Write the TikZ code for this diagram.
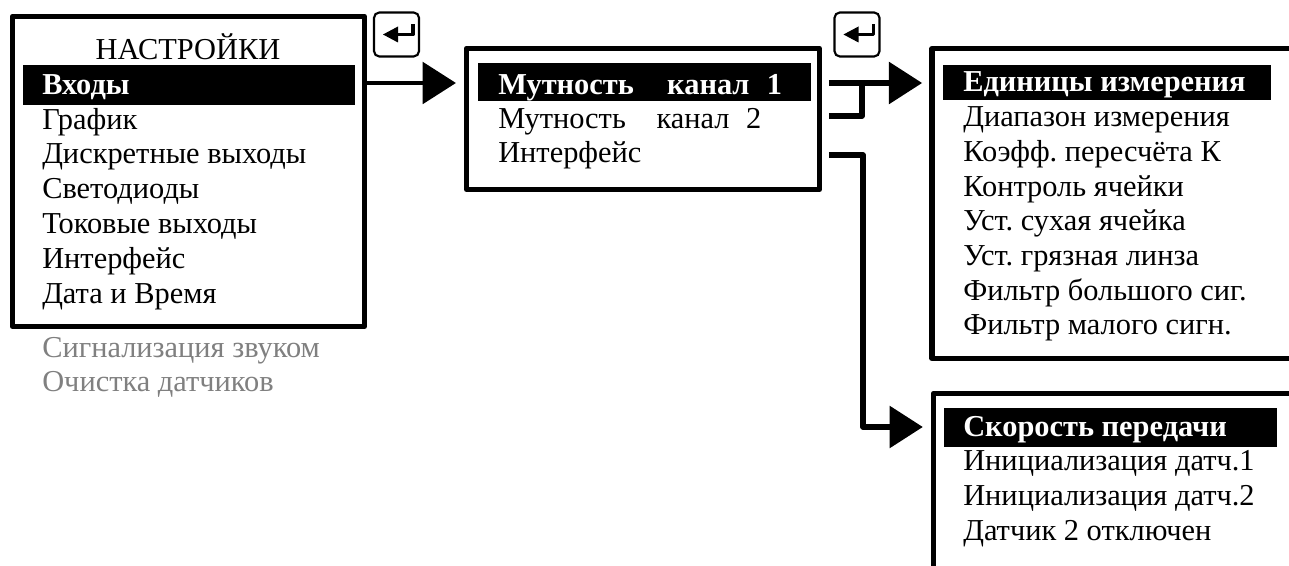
\documentclass[tikz,border=0pt]{standalone}
\usepackage{fontspec}
\setmainfont{Liberation Serif}
\usetikzlibrary{arrows.meta}
\frenchspacing
\tikzset{
	boxsize/.style n args={2}{minimum width=#1*0.75pt, minimum height=#2*0.75pt},
	menubox/.style={draw=black, line width=3.9pt, line join=round, anchor=north west, inner sep=0pt, outer sep=0pt},
	selbar/.style={fill=black, anchor=north west, inner sep=0pt, outer sep=0pt},
	item/.style={anchor=base west, inner sep=0pt, font=\fontsize{22.8pt}{25pt}\selectfont},
	selitem/.style={item, text=white, font=\fontsize{22.8pt}{25pt}\selectfont\bfseries},
	hidden/.style={item, text=black!50},
	keybox/.style={draw=black, line width=1.6pt, rounded corners=4pt, boxsize={45}{44}, inner sep=0pt, outer sep=0pt},
	flow/.style={draw=black, line width=3.4pt, line join=round},
	flowthick/.style={flow, line width=4pt},
	bigtip/.style={-{Triangle[length=25pt, width=31pt]}},
	pics/enterglyph/.style={code={
		\fill (-13.5,0) -- (1.5,-8) -- (1.5,8) -- cycle;
		\draw[line width=2.4pt, line join=round] (1,0) -- (16.5,0) -- (16.5,-10);
	}}
}
\begin{document}
\begin{tikzpicture}[x=0.75pt, y=-0.75pt]
	\useasboundingbox (0,0) rectangle (1289,566);
	\clip (0,0) rectangle (1289,566);

	% frames
	\node [menubox, boxsize={352}{310}] (settings) at (12.5,16.5) {};
	\node [menubox, boxsize={353}{141}] (channels) at (466.5,48.5) {};
	\node [menubox, boxsize={400}{310}] (units) at (932,48.5) {};
	\node [menubox, boxsize={400}{260}] (speed) at (933.5,393.5) {};

	% selected rows
	\node [selbar, boxsize={332}{40}] (barinputs) at (23,65) {};
	\node [selbar, boxsize={333}{38}] (barturb) at (478,63) {};
	\node [selbar, boxsize={328}{35}] (barunits) at (943,65) {};
	\node [selbar, boxsize={333}{39}] (barspeed) at (944,408) {};

	% first menu
	\node [item, anchor=base] (title) at (188,60) {НАСТРОЙКИ};
	\node [selitem] (inputs) at (42,95) {Входы};
	\node [item] (graph) at (42,130) {График};
	\node [item] (discrete) at (42,164) {Дискретные выходы};
	\node [item] (leds) at (42,199) {Светодиоды};
	\node [item] (current) at (42,234) {Токовые выходы};
	\node [item] (iface) at (42,269) {Интерфейс};
	\node [item] (clock) at (42,304) {Дата и Время};
	\node [hidden] (sound) at (42,358) {Сигнализация звуком};
	\node [hidden] (cleaning) at (42,392) {Очистка датчиков};

	% second menu
	\node [selitem] (turbA) at (498,95) {Мутность\hspace{25pt}канал\hspace{13pt}1};
	\node [item] (turbB) at (498,129) {Мутность\hspace{23pt}канал\hspace{12.5pt}2};
	\node [item] (ifaceB) at (498,163) {Интерфейс};

	% third menu
	\node [selitem] (unitname) at (963,92) {Единицы измерения};
	\node [item] (range) at (963,127) {Диапазон измерения};
	\node [item] (coeff) at (963,162) {Коэфф. пересчёта К};
	\node [item] (cellctl) at (963,197) {Контроль ячейки};
	\node [item] (drycell) at (963,231) {Уст. сухая ячейка};
	\node [item] (dirtylens) at (963,266) {Уст. грязная линза};
	\node [item] (bigfilter) at (963,301) {Фильтр большого сиг.};
	\node [item] (smallfilter) at (963,335) {Фильтр малого сигн.};

	% fourth menu
	\node [selitem] (rate) at (963,437) {Скорость передачи};
	\node [item] (initA) at (963,470) {Инициализация датч.1};
	\node [item] (initB) at (963,505) {Инициализация датч.2};
	\node [item] (sensoroff) at (963,540) {Датчик 2 отключен};

	% keys
	\node [keybox] (keyA) at (396.5,34.5) {};
	\node [keybox] (keyB) at (857,34.5) {};
	\pic at (keyA) {enterglyph};
	\pic at (keyB) {enterglyph};

	% connectors
	\coordinate (rowA) at (0,83);
	\coordinate (rowB) at (0,116);
	\coordinate (rowC) at (0,155);
	\coordinate (rowD) at (0,427);
	\coordinate (busA) at (862,0);
	\coordinate (busB) at (863,0);
	\draw [flow, bigtip, shorten >=7.9pt] (settings.east |- rowA) -- (channels.west |- rowA);
	\draw [flowthick, bigtip, shorten <=7pt, shorten >=7.4pt] (channels.east |- rowA) -- (units.west |- rowA);
	\draw [flowthick, shorten <=7pt] (channels.east |- rowB) -- (busA |- rowB) -- (busA |- rowA);
	\draw [flowthick, bigtip, shorten <=7pt, shorten >=8pt] (channels.east |- rowC) -- (busB |- rowC) -- (busB |- rowD) -- (speed.west |- rowD);
\end{tikzpicture}
\end{document}
